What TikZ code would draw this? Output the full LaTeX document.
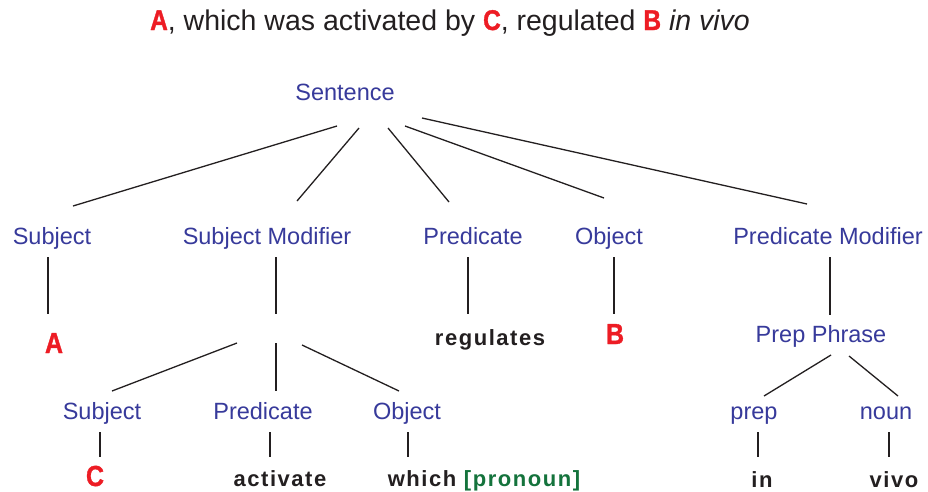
\documentclass[tikz,border=0pt]{standalone}
\usepackage{fontspec}
\setmainfont{Liberation Sans}
\newfontfamily\heavyfont{Liberation Sans}[FakeStretch=0.86, FakeBold=1.2]
\newfontfamily\trackfont{Liberation Sans}[LetterSpace=7]
\definecolor{labelblue}{RGB}{55,58,155}
\definecolor{keyred}{RGB}{237,28,36}
\definecolor{tagGreen}{RGB}{20,115,60}
\definecolor{ink}{RGB}{35,31,32}
\newcommand{\keyletter}[1]{{\heavyfont\bfseries\color{keyred}#1}}
\tikzset{
  cat/.style={anchor=base, inner sep=0pt, text=labelblue, font=\fontsize{23.5}{28}\selectfont},
  word/.style={anchor=base, inner sep=0pt, text=ink, font=\trackfont\bfseries\fontsize{22}{26}\selectfont},
  key/.style={anchor=base, inner sep=0pt, font=\heavyfont\bfseries\fontsize{29}{34}\selectfont, text=keyred},
  branch/.style={draw=ink, line width=1.3pt},
}
\begin{document}
\begin{tikzpicture}[x=1pt, y=-1pt]
\useasboundingbox[fill=white] (0,0) rectangle (928,491);

% heading sentence
\node[anchor=base, inner sep=0pt, text=ink, font=\fontsize{28.5}{33}\selectfont] (title) at (450,30)
  {\keyletter{A}, which was activated by \keyletter{C}, regulated \keyletter{B} \textit{in vivo}};

% root
\node[cat] (s) at (345,100) {Sentence};

% main constituents
\node[cat] (subj) at (52,244) {Subject};
\node[cat] (sm)   at (267,244) {Subject Modifier};
\node[cat] (pr)   at (473,244) {Predicate};
\node[cat] (ob)   at (609,244) {Object};
\node[cat] (pm)   at (828,244) {Predicate Modifier};

% their fillers
\node[key]  (ka) at (54,353) {A};
\coordinate (smj) at (276,343);
\node[word] (rg) at (490,345) {regulates};
\node[key]  (kb) at (615,344) {B};
\node[cat]  (pp) at (821,342) {Prep Phrase};

% relative clause
\node[cat] (s4) at (102,419) {Subject};
\node[cat] (p4) at (263,419) {Predicate};
\node[cat] (o4) at (407,419) {Object};
\node[key]  (kc)  at (95,486) {C};
\node[word] (act) at (280,486) {activate};
\node[word] (wh)  at (484,486) {which {\color{tagGreen}[pronoun]}};

% prepositional phrase
\node[cat]  (prep) at (754,419) {prep};
\node[cat]  (noun) at (886,419) {noun};
\node[word] (win)  at (762,487) {in};
\node[word] (wv)   at (894,487) {vivo};

% branches from the root
\draw[branch] ([shift={(-8,26)}]s.base) -- ([shift={(21,-38)}]subj.base);
\draw[branch] ([shift={(14,28)}]s.base) -- ([shift={(30,-43)}]sm.base);
\draw[branch] ([shift={(43,28)}]s.base) -- ([shift={(-24,-42)}]pr.base);
\draw[branch] ([shift={(60,26)}]s.base) -- ([shift={(-5,-46)}]ob.base);
\draw[branch] ([shift={(77,18)}]s.base) -- ([shift={(-21,-40)}]pm.base);

% second level
\draw[branch] ([shift={(-4,13)}]subj.base) -- ([shift={(-6,-39)}]ka.base);
\draw[branch] ([shift={(9,13)}]sm.base) -- ([shift={(0,-29)}]smj);
\draw[branch] ([shift={(-5,13)}]pr.base) -- ([shift={(-22,-31)}]rg.base);
\draw[branch] ([shift={(5,13)}]ob.base) -- ([shift={(-1,-30)}]kb.base);
\draw[branch] ([shift={(2,13)}]pm.base) -- ([shift={(9,-27)}]pp.base);

% relative clause branches
\draw[branch] ([shift={(-39,0)}]smj) -- ([shift={(10,-28)}]s4.base);
\draw[branch] (smj) -- ([shift={(13,-28)}]p4.base);
\draw[branch] ([shift={(26,2)}]smj) -- ([shift={(-8,-28)}]o4.base);
\draw[branch] ([shift={(-2,13)}]s4.base) -- ([shift={(5,-29)}]kc.base);
\draw[branch] ([shift={(7,13)}]p4.base) -- ([shift={(-10,-29)}]act.base);
\draw[branch] ([shift={(1,13)}]o4.base) -- ([shift={(-76,-29)}]wh.base);

% prepositional phrase branches
\draw[branch] ([shift={(10,13)}]pp.base) -- ([shift={(10,-23)}]prep.base);
\draw[branch] ([shift={(28,14)}]pp.base) -- ([shift={(12,-23)}]noun.base);
\draw[branch] ([shift={(4,13)}]prep.base) -- ([shift={(-4,-30)}]win.base);
\draw[branch] ([shift={(3,13)}]noun.base) -- ([shift={(-5,-30)}]wv.base);
\end{tikzpicture}
\end{document}
